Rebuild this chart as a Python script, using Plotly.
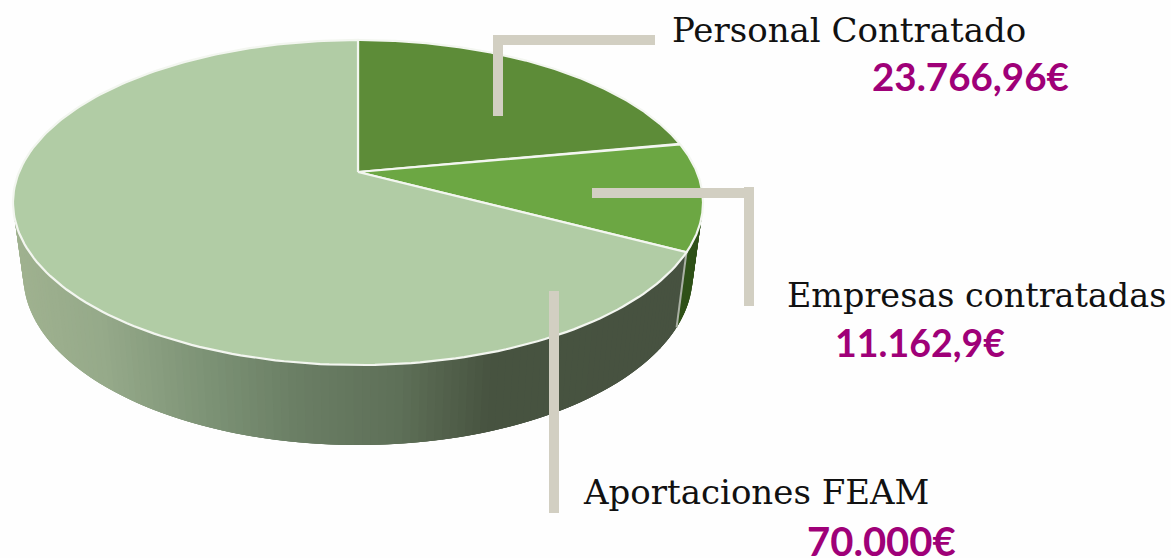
import numpy as np
import plotly.graph_objects as go

# Data
categories = ["Personal Contratado", "Empresas contratadas", "Aportaciones FEAM"]
values = [23766.96, 11162.9, 70000]
value_labels = ["23.766,96€", "11.162,9€", "70.000€"]

# Styling
slice_colors = ["#5d8c38", "#6ca743", "#b1cca5"]
wall_dark_green = "#2f5118"
beige = "#d2cfc2"
purple = "#9f0078"
W, H = 1171, 558

# Perspective of the disc (pixel-scale axes)
CX, CY, K, FX, FY, WARP = 358, 172, 0.1877, 338.9, 156.8, 0.04
ELL_Y, BOT_Y, SCALE_X, SCALE_Y = 202, 275, 0.97, 1.043


def top(th):
    t = th - WARP * np.sin(th)
    d = 1 + K * np.cos(t)
    return CX + FX * np.sin(t) / d, CY - FY * np.cos(t) / d


def bottom(th):
    x, y = top(th)
    return CX + SCALE_X * (x - CX), BOT_Y + SCALE_Y * (y - ELL_Y)


def wall_color(x):
    xs = [13, 100, 200, 300, 400, 490, 700]
    rs = [160, 150, 126, 106, 94, 72, 71]
    gs = [178, 170, 148, 126, 112, 84, 82]
    bs = [144, 138, 119, 100, 88, 65, 64]
    return "rgb(%d,%d,%d)" % (np.interp(x, xs, rs), np.interp(x, xs, gs), np.interp(x, xs, bs))


total = sum(values)
edges = np.concatenate([[0], np.cumsum(values) / total * 2 * np.pi])

fig = go.Figure()


def poly(x, y, fill, line=None, lw=0):
    fig.add_trace(go.Scatter(
        x=list(x), y=list(y), mode="lines", fill="toself", fillcolor=fill,
        line=dict(color=line or fill, width=lw if line else 0),
        hoverinfo="skip", showlegend=False))


# Side wall, strip by strip, front half of the disc; each strip overlaps the next
th_wall = np.linspace(np.radians(98), np.radians(262), 150)
step = th_wall[1] - th_wall[0]
for a in th_wall[:-1]:
    tt = np.linspace(a, min(a + 3 * step, th_wall[-1]), 5)
    xa, ya = top(tt)
    xd, yd = bottom(tt)
    mid = a + step / 2
    col = wall_dark_green if mid < edges[2] else wall_color(top(mid)[0])
    poly(np.r_[xa, xd[::-1], xa[0]], np.r_[ya, yd[::-1], ya[0]], col)

# Separator on the wall
xs0, ys0 = top(edges[2])
xs1, ys1 = bottom(edges[2])
fig.add_trace(go.Scatter(x=[xs0, xs1], y=[ys0, ys1], mode="lines",
                         line=dict(color="#aab0a4", width=2), hoverinfo="skip", showlegend=False))

# Top face slices
for i in range(len(values)):
    th = np.linspace(edges[i], edges[i + 1], 200)
    px, py = top(th)
    poly(np.r_[CX, px, CX], np.r_[CY, py, CY], slice_colors[i], "#f3f6f0", 2.2)

# Leader lines
bars = [(493, 35, 655, 45), (493, 35, 503, 116),
        (592, 188, 754, 198), (744, 187, 754, 306),
        (549, 291, 559, 513)]
shapes = [dict(type="rect", xref="x", yref="y", x0=a, y0=b, x1=c, y1=d,
               fillcolor=beige, line=dict(width=0), layer="above") for a, b, c, d in bars]

# Labels
label_pos = [(670, 30), (785, 295), (581, 492)]
label_size = [34, 33.4, 34]
value_pos = [(1071, 76), (1007, 342), (958, 541)]
value_size = [38.5, 37.5, 40]
ann = []
for name, (x, y), s in zip(categories, label_pos, label_size):
    ann.append(dict(x=x, y=y, text=name, xanchor="left", yanchor="middle", showarrow=False,
                    font=dict(family="DejaVu Serif", size=s, color="#111111")))
for txt, (x, y), s in zip(value_labels, value_pos, value_size):
    ann.append(dict(x=x, y=y, text=txt, xanchor="right", yanchor="middle", showarrow=False,
                    font=dict(family="Lato", size=s, color=purple, weight="bold")))

fig.update_layout(
    width=W, height=H, margin=dict(l=0, r=0, t=0, b=0), autosize=False,
    paper_bgcolor="#fefefe", plot_bgcolor="#fefefe", showlegend=False,
    xaxis=dict(range=[0, W], visible=False, fixedrange=True),
    yaxis=dict(range=[H, 0], visible=False, fixedrange=True),
    shapes=shapes, annotations=ann)

fig.write_html("out.html", config=dict(displayModeBar=False),
               post_script="document.body.style.margin='0';document.body.style.overflow='hidden';")
